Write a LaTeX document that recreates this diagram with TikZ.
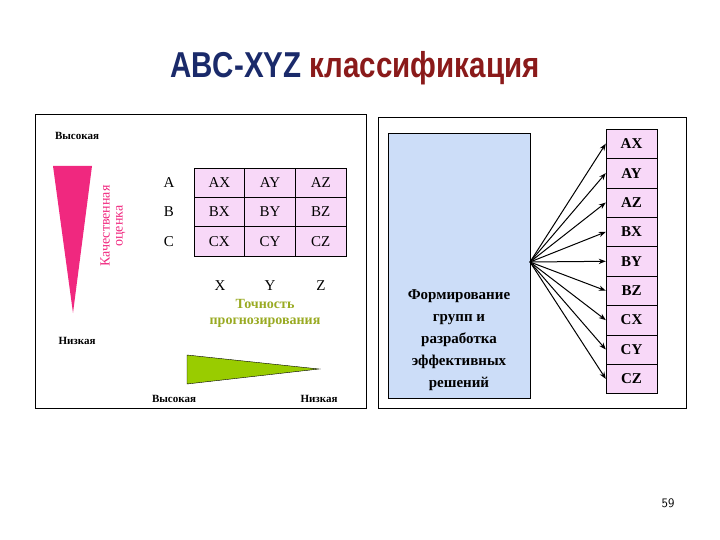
\documentclass[tikz,border=0pt]{standalone}
\usepackage{fontspec}
\setmainfont{Liberation Serif}
\newfontfamily\titlefont{Liberation Sans}
\usetikzlibrary{arrows.meta}
\definecolor{pinkfill}{HTML}{F8D8F8}
\definecolor{bluefill}{HTML}{CCDDF8}
\definecolor{magtri}{HTML}{F0287F}
\definecolor{oliv}{HTML}{99AA22}
\definecolor{greentri}{HTML}{99CC00}
\definecolor{navy}{HTML}{1A2A6A}
\definecolor{maroon}{HTML}{8A1A1A}
\tikzset{cell/.style={draw,fill=pinkfill,minimum width=51pt,minimum height=29.4pt,inner sep=0,font=\bfseries\fontsize{15}{15}\selectfont},
tcell/.style={draw,fill=pinkfill,minimum width=51pt,minimum height=29.5pt,inner sep=0,font=\fontsize{15}{15}\selectfont},
lbl/.style={font=\bfseries\fontsize{11}{11}\selectfont},
big/.style={font=\fontsize{15}{15}\selectfont}}
\begin{document}
\begin{tikzpicture}[x=1pt,y=-1pt]
\useasboundingbox (0,0) rectangle (720,540);
\node (title) at (355,68) {\titlefont\bfseries\fontsize{36}{36}\selectfont\scalebox{0.82}[1]{\textcolor{navy}{ABC-XYZ} \textcolor{maroon}{классификация}}};
% left panel
\draw (35,114) rectangle (366,408);
\node[lbl] (hi) at (77,136) {Высокая};
\node[lbl] (lo) at (77,341) {Низкая};
\fill[magtri] (53,166) -- (92,166) -- (73,313) -- cycle;
\node[rotate=90,magtri,align=center,font=\fontsize{14}{13}\selectfont] (qual) at (113,226) {Качественная\\оценка};
\foreach \r/\rl [count=\i] in {A,B,C}{
  \node[big] (row\r) at (169,{168+14.7+(\i-1)*29.3}) {\r};
  \foreach \c [count=\j] in {X,Y,Z}{
    \node[tcell] (t\r\c) at ({194+25.4+(\j-1)*50.7},{168+14.7+(\i-1)*29.3}) {\r\c};
  }
}
\foreach \c/\x in {X/220,Y/270,Z/321}{\node[big] (col\c) at (\x,286) {\c};}
\node[oliv,align=center,font=\bfseries\fontsize{14}{16}\selectfont] (acc) at (265,313) {Точность\\прогнозирования};
\draw[fill=greentri] (187,355) -- (319,369) -- (187,384) -- cycle;
\node[lbl] (hi2) at (174,399) {Высокая};
\node[lbl] (lo2) at (319,399) {Низкая};
% right panel
\draw (378,117) rectangle (686,408);
\node[draw,fill=bluefill,minimum width=142pt,minimum height=265pt,inner sep=0] (box) at (459,265.5) {};
\node[align=center,font=\bfseries\fontsize{15}{22}\selectfont] (boxt) at (459,340) {Формирование\\групп и\\разработка\\эффективных\\решений};
\coordinate (src) at (530,262);
\foreach \n [count=\i] in {AX,AY,AZ,BX,BY,BZ,CX,CY,CZ}{
  \node[cell] (r\n) at (631.5,{129+14.7+(\i-1)*29.4}) {\n};
  \draw[line width=1pt,-{Stealth[length=7pt]}] (src) -- (r\n.west);
}
\node[font=\sffamily\fontsize{13}{13}\selectfont] (pg) at (668,503) {59};
\end{tikzpicture}
\end{document}
